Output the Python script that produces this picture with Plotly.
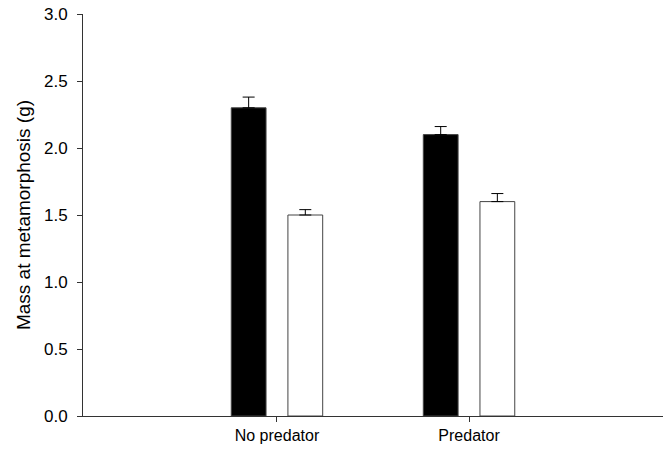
import plotly.graph_objects as go

categories = ["No predator", "Predator"]
black_vals = [2.30, 2.10]
black_err = [0.08, 0.06]
white_vals = [1.50, 1.60]
white_err = [0.04, 0.06]

fig = go.Figure()
fig.add_trace(go.Bar(
    x=categories, y=black_vals, name="A",
    marker=dict(color="black", line=dict(color="#444444", width=1)),
    error_y=dict(type="data", array=black_err, arrayminus=[0, 0], symmetric=False,
                 color="black", thickness=1, width=6),
))
fig.add_trace(go.Bar(
    x=categories, y=white_vals, name="B",
    marker=dict(color="white", line=dict(color="#444444", width=1)),
    error_y=dict(type="data", array=white_err, arrayminus=[0, 0], symmetric=False,
                 color="black", thickness=1, width=6),
))

fam = "Liberation Sans, Arial, sans-serif"
fig.update_layout(
    width=666, height=453,
    margin=dict(l=83, r=3, t=14, b=37),
    paper_bgcolor="white", plot_bgcolor="white",
    barmode="group", bargap=0.41, bargroupgap=0.386,
    showlegend=False,
    font=dict(family=fam, size=16, color="black"),
    xaxis=dict(type="category", range=[-1.01, 2.01], showline=True, linecolor="#333333",
               linewidth=1, ticks="outside", ticklen=5, tickcolor="#333333",
               showgrid=False, zeroline=False,
               tickfont=dict(family=fam, size=16, color="black")),
    yaxis=dict(range=[0, 3.0], tickvals=[0, 0.5, 1.0, 1.5, 2.0, 2.5, 3.0],
               ticktext=["0.0", "0.5", "1.0", "1.5", "2.0", "2.5", "3.0"],
               showline=True, linecolor="#333333", linewidth=1, ticks="outside",
               ticklen=5, tickcolor="#333333", showgrid=False, zeroline=False,
               ticklabelstandoff=6,
               tickfont=dict(family=fam, size=17, color="black"),
               title=dict(text="Mass at metamorphosis (g)",
                          font=dict(family=fam, size=19, color="black"), standoff=8)),
)
fig.write_html("out.html")
